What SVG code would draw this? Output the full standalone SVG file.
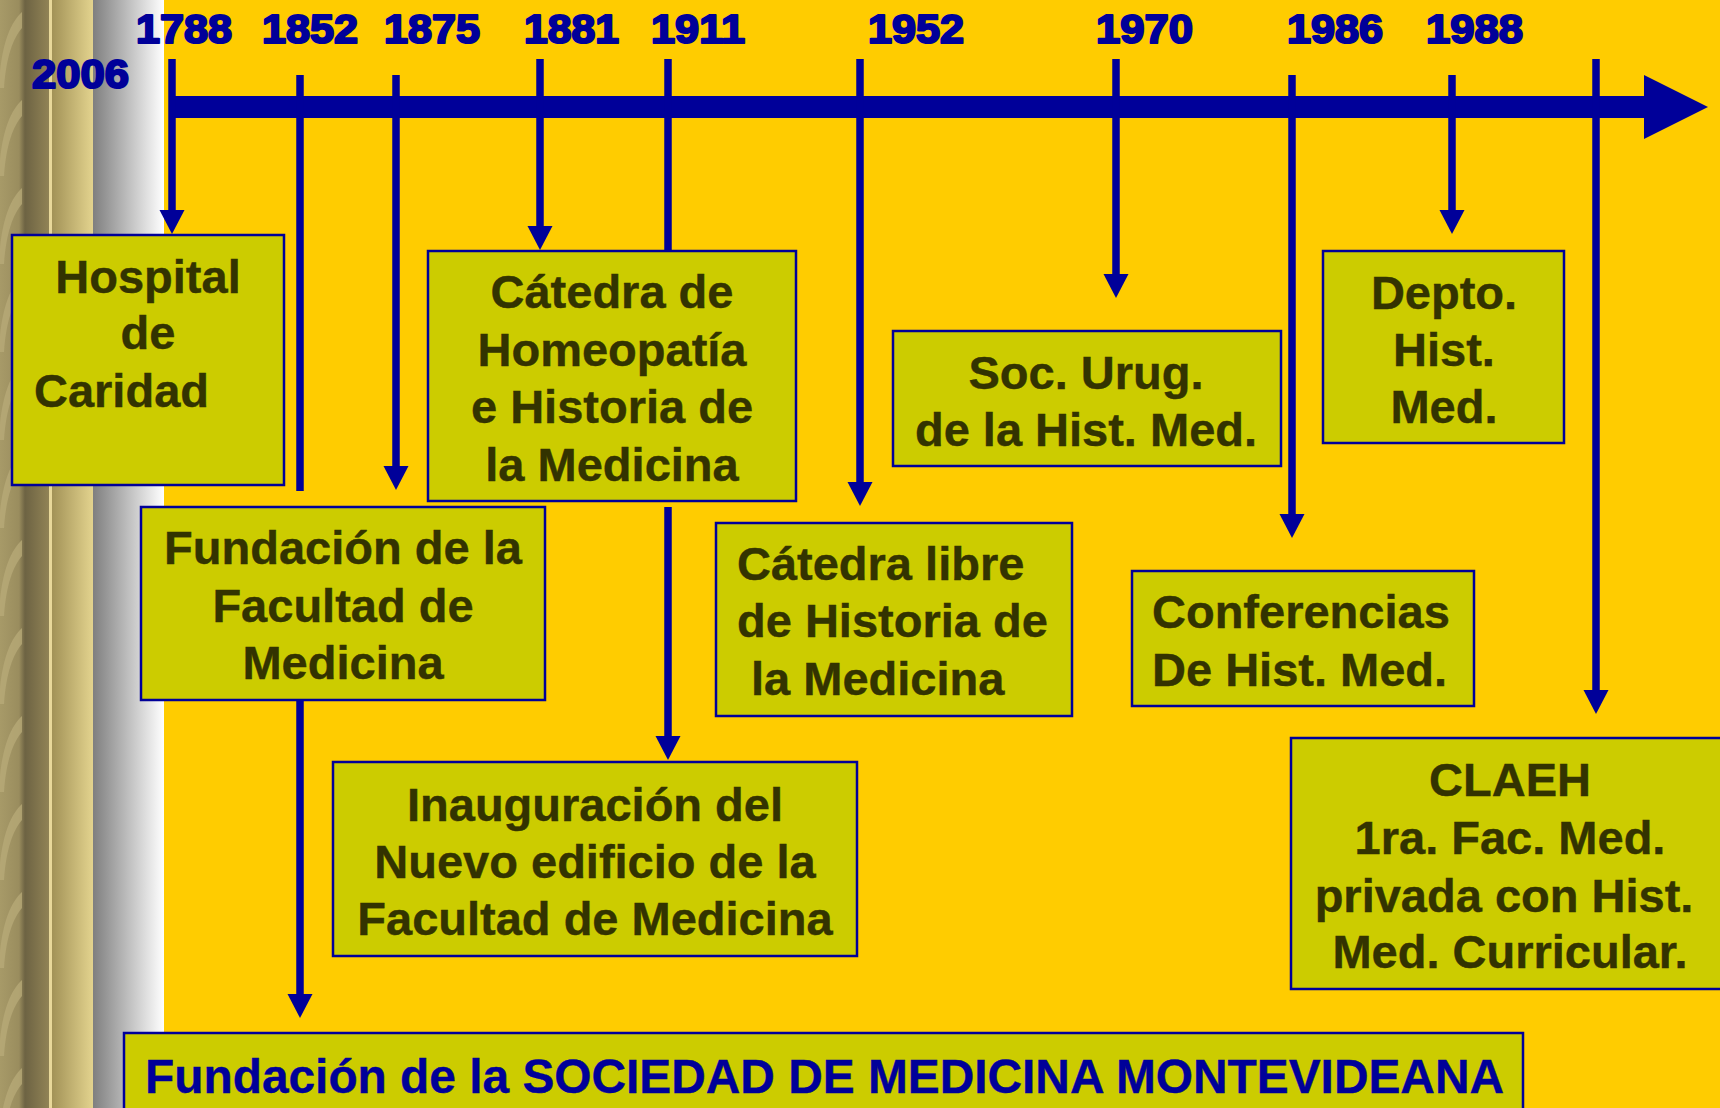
<svg xmlns="http://www.w3.org/2000/svg" width="1720" height="1108" viewBox="0 0 1720 1108">
<defs>
<style>
.box{fill:#cccc00;stroke:#000099;stroke-width:2.5}
.t{font-family:"Liberation Sans",Arial,sans-serif;font-weight:bold;font-size:47px;fill:#333300;stroke:#333300;stroke-width:0.4}
.c{text-anchor:middle}
.yr{font-family:"Liberation Sans",Arial,sans-serif;font-weight:bold;font-size:41px;fill:#000099;stroke:#000099;stroke-width:2.2;stroke-linejoin:round}
.ln{stroke:#000099;stroke-width:7.5;fill:none}
.ar{marker-end:url(#ah)}
</style>
<marker id="ah" markerUnits="userSpaceOnUse" markerWidth="25" markerHeight="26" refX="1" refY="12.5" orient="auto">
<path d="M0,0 L24,12.5 L0,25 Z" fill="#000099"/>
</marker>
<linearGradient id="gDark" x1="0" x2="1" y1="0" y2="0">
<stop offset="0" stop-color="#a79a68"/>
<stop offset="0.38" stop-color="#9a8d5e"/>
<stop offset="0.5" stop-color="#6d6343"/>
<stop offset="1" stop-color="#928456"/>
</linearGradient>
<linearGradient id="gTan" x1="0" x2="1" y1="0" y2="0">
<stop offset="0" stop-color="#a29257"/>
<stop offset="1" stop-color="#e3d38e"/>
</linearGradient>
<linearGradient id="gGray" x1="0" x2="1" y1="0" y2="0">
<stop offset="0" stop-color="#7f7f7f"/>
<stop offset="1" stop-color="#ffffff"/>
</linearGradient>
<pattern id="wave" patternUnits="userSpaceOnUse" width="22" height="88">
<path d="M0,72 C3,42 11,22 22,12 L22,28 C13,38 6,58 4,88 L0,88 Z" fill="#b8ab78" opacity="0.75"/>
</pattern>
</defs>

<g id="background">
<rect x="0" y="0" width="1720" height="1108" fill="#ffcc00"/>
<rect x="0" y="0" width="50" height="1108" fill="url(#gDark)"/>
<rect x="0" y="0" width="22" height="1108" fill="url(#wave)"/>
<rect x="49" y="0" width="3" height="1108" fill="#e8d89a"/>
<rect x="52" y="0" width="41" height="1108" fill="url(#gTan)"/>
<rect x="93" y="0" width="71" height="1108" fill="url(#gGray)"/>
</g>

<g id="years">
<text class="yr" x="32" y="88" textLength="97" lengthAdjust="spacingAndGlyphs">2006</text>
<text class="yr" x="136" y="43" textLength="96" lengthAdjust="spacingAndGlyphs">1788</text>
<text class="yr" x="262" y="43" textLength="96" lengthAdjust="spacingAndGlyphs">1852</text>
<text class="yr" x="384" y="43" textLength="96" lengthAdjust="spacingAndGlyphs">1875</text>
<text class="yr" x="524" y="43" textLength="95" lengthAdjust="spacingAndGlyphs">1881</text>
<text class="yr" x="651" y="43" textLength="94" lengthAdjust="spacingAndGlyphs">1911</text>
<text class="yr" x="868" y="43" textLength="96" lengthAdjust="spacingAndGlyphs">1952</text>
<text class="yr" x="1096" y="43" textLength="97" lengthAdjust="spacingAndGlyphs">1970</text>
<text class="yr" x="1287" y="43" textLength="96" lengthAdjust="spacingAndGlyphs">1986</text>
<text class="yr" x="1426" y="43" textLength="97" lengthAdjust="spacingAndGlyphs">1988</text>
</g>

<g id="connectors">
<rect x="169" y="96" width="1476" height="22" fill="#000099"/>
<polygon points="1644,75 1708,107 1644,139" fill="#000099"/>
<line class="ln ar" x1="172" y1="59" x2="172" y2="211"/>
<line class="ln" x1="300" y1="75" x2="300" y2="491"/>
<line class="ln ar" x1="300" y1="700" x2="300" y2="995"/>
<line class="ln ar" x1="396" y1="75" x2="396" y2="467"/>
<line class="ln ar" x1="540" y1="59" x2="540" y2="227"/>
<line class="ln" x1="668" y1="59" x2="668" y2="251"/>
<line class="ln ar" x1="668" y1="507" x2="668" y2="737"/>
<line class="ln ar" x1="860" y1="59" x2="860" y2="483"/>
<line class="ln ar" x1="1116" y1="59" x2="1116" y2="275"/>
<line class="ln ar" x1="1292" y1="75" x2="1292" y2="515"/>
<line class="ln ar" x1="1452" y1="75" x2="1452" y2="211"/>
<line class="ln ar" x1="1596" y1="59" x2="1596" y2="691"/>
</g>

<g id="hospital">
<rect class="box" x="12" y="235" width="272" height="250"/>
<text class="t c" x="148" y="293">Hospital</text>
<text class="t c" x="148" y="349">de</text>
<text class="t" x="34" y="407">Caridad</text>
</g>

<g id="facultad">
<rect class="box" x="141" y="507" width="404" height="193"/>
<text class="t c" x="343" y="564">Fundación de la</text>
<text class="t c" x="343" y="622">Facultad de</text>
<text class="t c" x="343" y="679">Medicina</text>
</g>

<g id="homeopatia">
<rect class="box" x="428" y="251" width="368" height="250"/>
<text class="t c" x="612" y="308">Cátedra de</text>
<text class="t c" x="612" y="366">Homeopatía</text>
<text class="t c" x="612" y="423">e Historia de</text>
<text class="t c" x="612" y="481">la Medicina</text>
</g>

<g id="inauguracion">
<rect class="box" x="333" y="762" width="524" height="194"/>
<text class="t c" x="595" y="821">Inauguración del</text>
<text class="t c" x="595" y="878">Nuevo edificio de la</text>
<text class="t c" x="595" y="935">Facultad de Medicina</text>
</g>

<g id="catedra-libre">
<rect class="box" x="716" y="523" width="356" height="193"/>
<text class="t" x="737" y="580">Cátedra libre</text>
<text class="t" x="737" y="637">de Historia de</text>
<text class="t" x="751" y="695">la Medicina</text>
</g>

<g id="soc-urug">
<rect class="box" x="893" y="331" width="388" height="135"/>
<text class="t c" x="1086" y="389">Soc. Urug.</text>
<text class="t c" x="1086" y="446">de la Hist. Med.</text>
</g>

<g id="conferencias">
<rect class="box" x="1132" y="571" width="342" height="135"/>
<text class="t" x="1152" y="628">Conferencias</text>
<text class="t" x="1152" y="686">De Hist. Med.</text>
</g>

<g id="depto">
<rect class="box" x="1323" y="251" width="241" height="192"/>
<text class="t c" x="1444" y="309">Depto.</text>
<text class="t c" x="1444" y="366">Hist.</text>
<text class="t c" x="1444" y="423">Med.</text>
</g>

<g id="claeh">
<rect class="box" x="1291" y="738" width="440" height="251"/>
<text class="t c" x="1510" y="796">CLAEH</text>
<text class="t c" x="1510" y="854">1ra. Fac. Med.</text>
<text class="t c" x="1504" y="912">privada con Hist.</text>
<text class="t c" x="1510" y="968">Med. Curricular.</text>
</g>

<g id="sociedad">
<rect class="box" x="124" y="1033" width="1399" height="100"/>
<text class="t" x="145" y="1093" style="font-size:48px;fill:#000099;stroke:#000099" textLength="1359" lengthAdjust="spacingAndGlyphs">Fundación de la SOCIEDAD DE MEDICINA MONTEVIDEANA</text>
</g>
</svg>
